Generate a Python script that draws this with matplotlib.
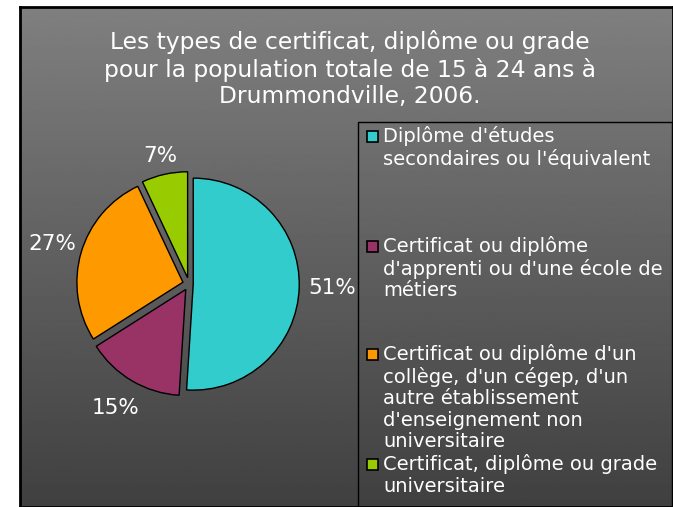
import numpy as np
import matplotlib
matplotlib.use("Agg")
import matplotlib.pyplot as plt
from matplotlib.patches import Rectangle

title = "Les types de certificat, diplôme ou grade\npour la population totale de 15 à 24 ans à\nDrummondville, 2006."
categories = [
    "Diplôme d'études\nsecondaires ou l'équivalent",
    "Certificat ou diplôme\nd'apprenti ou d'une école de\nmétiers",
    "Certificat ou diplôme d'un\ncollège, d'un cégep, d'un\nautre établissement\nd'enseignement non\nuniversitaire",
    "Certificat, diplôme ou grade\nuniversitaire",
]
values = [51, 15, 27, 7]
colors = ["#33CCCC", "#993366", "#FF9900", "#99CC00"]

W, H = 673, 507
fig = plt.figure(figsize=(W / 100, H / 100), dpi=100)
fig.patch.set_facecolor("white")

def fx(px):
    return px / W

def fy(py):
    return 1 - py / H

# background frame with vertical gradient
bg = fig.add_axes([fx(20), 0, fx(673) - fx(20), fy(7)])
grad = np.linspace(0.50, 0.25, 256).reshape(-1, 1)
bg.imshow(grad, aspect="auto", cmap="gray", vmin=0, vmax=1, extent=[0, 1, 0, 1], origin="upper")
bg.set_xticks([]); bg.set_yticks([])
for s in bg.spines.values():
    s.set_color("black"); s.set_linewidth(2)

fig.text(fx(350), fy(69), title, ha="center", va="center", color="white",
         fontsize=16.8, linespacing=1.2, family="DejaVu Sans")

# pie
r = 106
cx, cy = 189, 284
side = 3 * r
ax = fig.add_axes([fx(cx - side / 2), fy(cy + side / 2), side / W, side / H])
wedges, texts, autotexts = ax.pie(
    values, colors=colors, startangle=90, counterclock=False,
    explode=[0.04, 0.06, 0.06, 0.06], radius=1.0,
    autopct="%1.0f%%", pctdistance=1.3,
    wedgeprops=dict(edgecolor="black", linewidth=1.0),
    textprops=dict(color="white", fontsize=15.5, family="DejaVu Sans"),
)
# label distances (like the reference, the narrow label sits a bit closer)
label_dist = [1.31, 1.3, 1.28, 1.18]
for w, t, d in zip(wedges, autotexts, label_dist):
    ang = np.deg2rad((w.theta1 + w.theta2) / 2)
    c = w.center
    t.set_position((c[0] + d * np.cos(ang), c[1] + d * np.sin(ang)))
ax.set_xlim(-1.5, 1.5); ax.set_ylim(-1.5, 1.5)
ax.set_aspect("equal"); ax.axis("off")

# legend box
lx0, ly0, lx1 = 358, 122, 672
fig.patches.append(Rectangle((fx(lx0), 0), fx(lx1) - fx(lx0), fy(ly0), transform=fig.transFigure,
                             facecolor="none", edgecolor="black", linewidth=1.0))
first_line_y = [137, 247, 355, 465]
for lab, col, yy in zip(categories, colors, first_line_y):
    fig.patches.append(Rectangle((fx(367), fy(yy + 5)), 11 / W, 11 / H, transform=fig.transFigure,
                                 facecolor=col, edgecolor="black", linewidth=1.2))
    fig.text(fx(383), fy(yy - 11), lab, ha="left", va="top", color="white",
             fontsize=14, linespacing=1.17, family="DejaVu Sans")

fig.savefig("out.png", dpi=100)
